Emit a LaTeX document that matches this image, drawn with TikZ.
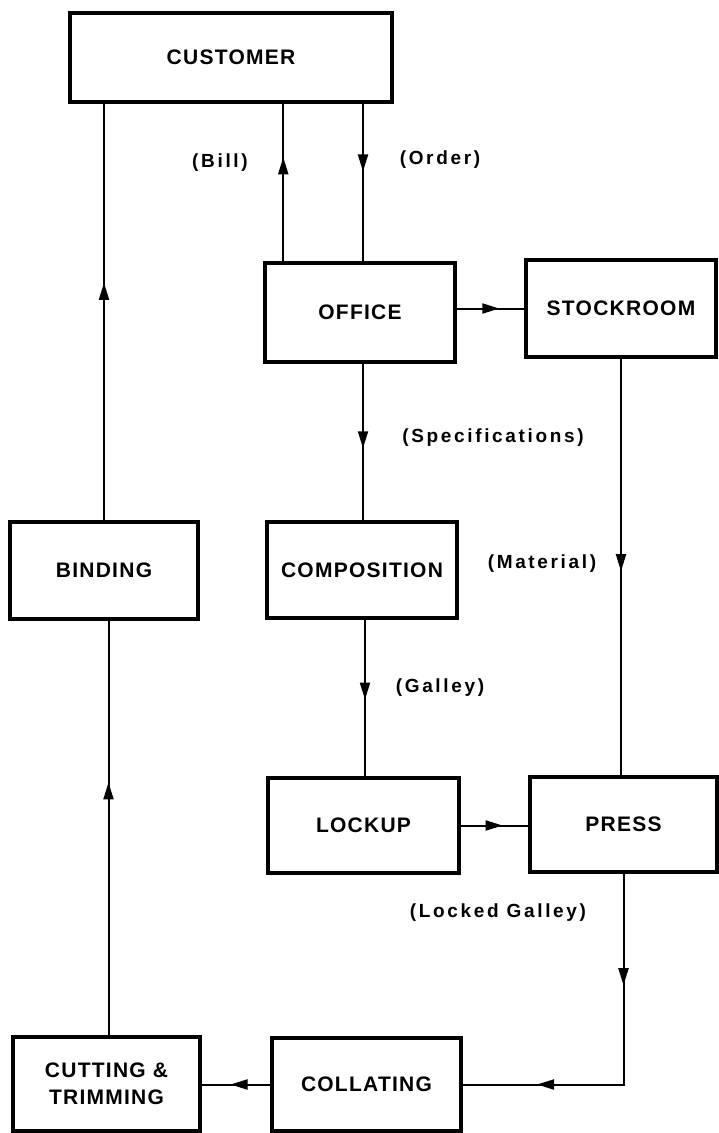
\documentclass[tikz,border=0pt]{standalone}
\usepackage{fontspec}
\setmainfont{Liberation Sans}
\newfontfamily\boxfont[LetterSpace=6]{Liberation Sans}
\newfontfamily\labfont[LetterSpace=14]{Liberation Sans}
\usetikzlibrary{arrows.meta,decorations.markings}
\begin{document}
\begin{tikzpicture}[x=1pt,y=-1pt,
  stage/.style={draw, line width=3.5pt, inner sep=0pt, align=center,
    font=\boxfont\fontsize{21}{27}\selectfont\bfseries},
  lab/.style={inner sep=0pt, font=\labfont\fontsize{19}{23}\selectfont\bfseries},
  flow/.style={line width=2pt},
  tipshape/.tip={Triangle[length=17pt,width=10pt]},
  midarrow/.style={postaction={decorate}, decoration={markings,
    mark=at position #1 with {\arrow{tipshape}}}},
  twoarrows/.style 2 args={postaction={decorate}, decoration={markings,
    mark=at position #1 with {\arrow{tipshape}},
    mark=at position #2 with {\arrow{tipshape}}}}]
\useasboundingbox (0,0) rectangle (719,1133);

\node[stage, minimum width=322pt, minimum height=89pt] (customer) at (231,57.5) {CUSTOMER};
\node[stage, minimum width=190pt, minimum height=99pt] (office) at (360,312.5) {OFFICE};
\node[stage, minimum width=190pt, minimum height=97pt] (stockroom) at (621,308.5) {STOCKROOM};
\node[stage, minimum width=190pt, minimum height=96pt] (composition) at (362,570) {COMPOSITION};
\node[stage, minimum width=188pt, minimum height=97pt] (binding) at (104,570.5) {BINDING};
\node[stage, minimum width=191pt, minimum height=95pt] (lockup) at (363.5,825.5) {LOCKUP};
\node[stage, minimum width=187pt, minimum height=95pt] (press) at (623.5,824.5) {PRESS};
\node[stage, minimum width=189pt, minimum height=93pt] (collating) at (366.5,1084.5) {COLLATING};
\node[stage, minimum width=187pt, minimum height=94pt] (cutting) at (106.5,1084) {CUTTING \&\\TRIMMING};

\node[lab] (lbill) at (220,163) {(Bill)};
\node[lab] (lorder) at (440,160) {(Order)};
\node[lab] (lspec) at (493,438) {(Specifications)};
\node[lab] (lmat) at (542,564) {(Material)};
\node[lab] (lgalley) at (440,688) {(Galley)};
\node[lab] (llocked) at (498,913) {(Locked Galley)};

\draw[flow, midarrow=0.66] ([xshift=20pt]office.north west) -- ([xshift=20pt]office.north west |- customer.south);
\draw[flow, midarrow=0.43] ([xshift=3pt]office.north |- customer.south) -- ([xshift=3pt]office.north);
\draw[flow, midarrow=0.63] (office.east |- stockroom.west) -- (stockroom.west);
\draw[flow, midarrow=0.54] ([xshift=3pt]office.south) -- ([xshift=3pt]office.south |- composition.north);
\draw[flow, midarrow=0.51] (stockroom.south) -- (stockroom.south |- press.north);
\draw[flow, midarrow=0.51] ([xshift=3pt]composition.south) -- ([xshift=3pt]composition.south |- lockup.north);
\draw[flow, midarrow=0.62] (lockup.east) -- (lockup.east -| press.west);
\draw[flow, twoarrows={0.30}{0.80}] (press.south) -- (press.south |- collating.east) -- (collating.east);
\draw[flow, midarrow=0.58] (collating.west) -- (collating.west -| cutting.east);
\draw[flow, midarrow=0.61] ([xshift=2pt]cutting.north) -- ([xshift=2pt]cutting.north |- binding.south);
\draw[flow, midarrow=0.57] (binding.north) -- (binding.north |- customer.south);
\end{tikzpicture}
\end{document}
